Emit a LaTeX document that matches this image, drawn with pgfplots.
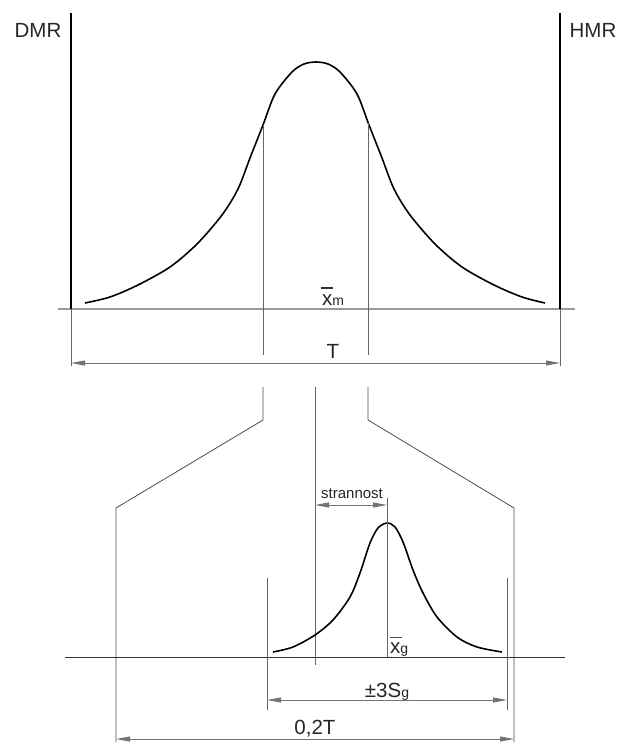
\documentclass[border=0pt]{standalone}
\usepackage{pgfplots}
\pgfplotsset{compat=1.18}
\usetikzlibrary{arrows.meta}
\usepackage{fontspec}
\setmainfont{Liberation Sans}

% picture is laid out in pixel units of the reference, y pointing down
\tikzset{
  curve/.style={black, line width=1.6pt, smooth},
  thin/.style={black!60, line width=0.6pt},
  dim/.style={black!55, line width=0.9pt,
    {Triangle[length=14pt,width=5pt]}-{Triangle[length=14pt,width=5pt]}},
  lbl/.style={anchor=base, inner sep=0pt, text=black!85},
}
\newcommand{\lbig}{\fontsize{20.5}{24}\selectfont}
\newcommand{\lsub}{\fontsize{14}{16}\selectfont}

\begin{document}
\begin{tikzpicture}
\begin{axis}[
  name=ax,
  width=620pt, height=744pt, scale only axis,
  xmin=0, xmax=620, ymin=0, ymax=744,
  y dir=reverse,
  hide axis,
  clip=false,
]
% upper distribution
\addplot[curve] coordinates {
  (85,303)(110,297)(138,285)(170,267)(197,244)(222,215)(238,189)(250,158)
  (263,125)(275,94)(292,72)(304,64)(316,62)(328,64)(340,72)(357,94)
  (369,125)(382,158)(394,189)(410,215)(435,244)(462,267)(494,285)(522,297)(545,303)
};
\addplot[black!40, line width=1.2pt] coordinates {(58,309)(575,309)};
\addplot[black, line width=1.6pt] coordinates {(71,13)(71,309)};
\addplot[black, line width=1.6pt] coordinates {(560,13)(560,309)};
\addplot[thin] coordinates {(71,309)(71,366)};
\addplot[thin] coordinates {(560,309)(560,366)};
\addplot[thin] coordinates {(263,125)(263,355)};
\addplot[thin] coordinates {(368,123)(368,355)};
\addplot[dim] coordinates {(71,363)(560,363)};

% funnel
\addplot[black!70, line width=0.8pt] coordinates {(263,387)(263,420)(116,508)(116,742)};
\addplot[black!70, line width=0.8pt] coordinates {(368,387)(368,420)(514,508)(514,742)};
\addplot[thin] coordinates {(315,387)(315,665)};

% lower distribution
\addplot[curve] coordinates {
  (273,652)(293,647)(315,635)(333,620)(350,597)(360,573)(370,543)(378,528)
  (387,523)(395,527)(403,542)(413,570)(423,593)(437,617)(457,637)(477,647)(502,652)
};
\addplot[black!80, line width=0.8pt] coordinates {(65,657)(565,657)};
\addplot[thin] coordinates {(387,498)(387,657)};
\addplot[thin] coordinates {(267,578)(267,710)};
\addplot[thin] coordinates {(507,578)(507,710)};
\addplot[dim] coordinates {(315,505)(387,505)};
\addplot[dim] coordinates {(267,700)(507,700)};
\addplot[dim] coordinates {(116,739)(514,739)};

% bars over the means
\addplot[black!80, line width=2pt] coordinates {(321,288)(333,288)};
\addplot[black!70, line width=1pt] coordinates {(390,637)(402,637)};

% labels
\node[lbl] at (axis cs:38,37) {\lbig DMR};
\node[lbl] at (axis cs:593,37) {\lbig HMR};
\node[lbl, anchor=base west] at (axis cs:322,305) {\lbig x{\lsub m}};
\node[lbl] at (axis cs:333,358) {\lbig T};
\node[lbl] at (axis cs:352,498) {\fontsize{15}{17}\selectfont strannost};
\node[lbl, anchor=base west] at (axis cs:390,653) {\lbig x{\lsub g}};
\node[lbl] at (axis cs:387,697) {\lbig ±3S{\lsub g}};
\node[lbl] at (axis cs:315,734) {\lbig 0,2T};
\end{axis}
\pgfresetboundingbox
\path (ax.south west) rectangle (ax.north east);
\end{tikzpicture}
\end{document}
